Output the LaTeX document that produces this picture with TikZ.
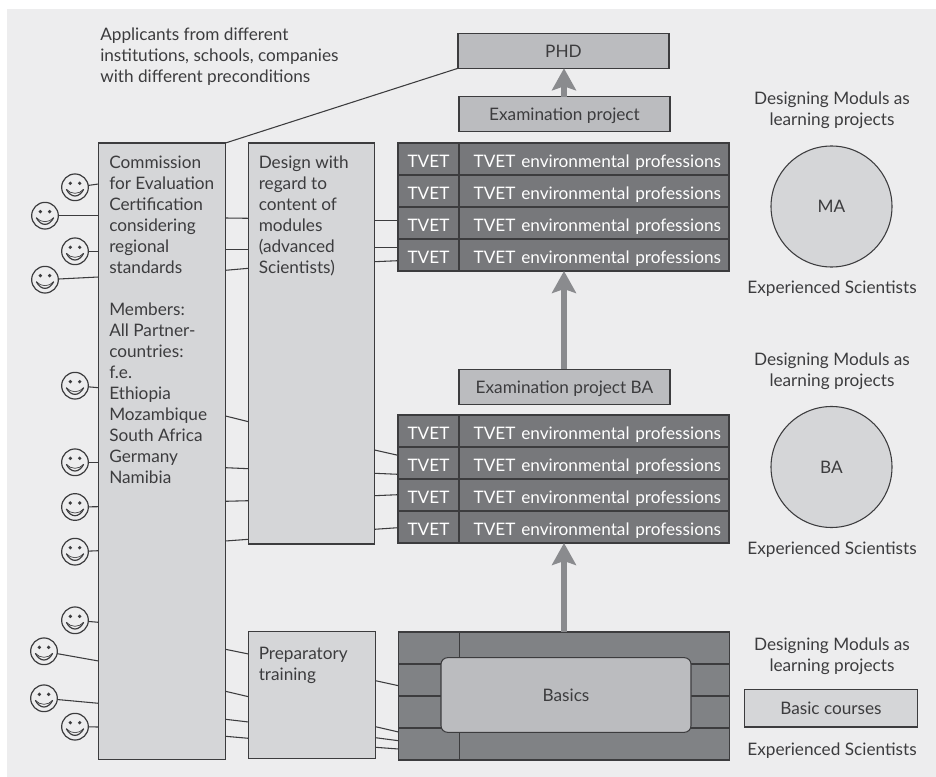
\documentclass[tikz,border=0pt]{standalone}
\usepackage{fontspec}
\setmainfont{Lato}
\usetikzlibrary{arrows.meta}
\definecolor{panelgray}{HTML}{EDEDEE}
\definecolor{boxgray}{HTML}{D5D6D8}
\definecolor{lightgray}{HTML}{BBBCBF}
\definecolor{tvetgray}{HTML}{77787B}
\definecolor{basegray}{HTML}{808285}
\definecolor{arrowgray}{HTML}{8A8B8E}
\definecolor{linegray}{HTML}{3C3C3E}
\begin{document}
\begin{tikzpicture}[x=0.75pt, y=-0.75pt, font=\fontsize{12.9pt}{15.75pt}\selectfont, text=linegray,
		main/.style = {draw=linegray, line width=0.8pt, fill=boxgray, inner sep=0pt, outer sep=0pt},
		light/.style = {main, fill=lightgray, minimum width=158.25pt, minimum height=26.25pt, text height=11pt, text depth=1.5pt},
		round/.style = {main, circle, minimum size=90.75pt},
		txt/.style = {align=center, inner sep=0pt},
		side/.style = {align=left, inner sep=0pt, anchor=north west},
		tvet/.style = {main, fill=tvetgray, text=white, minimum width=45.75pt, minimum height=24pt, text height=13.5pt, text depth=0.9pt},
		prof/.style = {tvet, minimum width=202.5pt, text width=190.5pt, align=right},
		brick/.style = {tvet, fill=basegray},
		brickw/.style = {prof, fill=basegray},
		link/.style = {draw=linegray, line width=0.8pt},
		up/.style = {draw=arrowgray, line width=4pt, -{Stealth[length=16.5pt, width=18pt, inset=3pt]}},
		smiley/.style = {draw=linegray, line width=0.9pt, circle, minimum size=20pt, inner sep=0pt, outer sep=0pt,
			path picture={
				\fill[linegray] ([xshift=-3.5pt, yshift=3pt]path picture bounding box.center) circle (1.4pt);
				\fill[linegray] ([xshift=3.5pt, yshift=3pt]path picture bounding box.center) circle (1.4pt);
				\draw[linegray, line width=0.9pt] ([xshift=-6.5pt, yshift=-1.5pt]path picture bounding box.center) .. controls ([xshift=-3pt, yshift=-8.2pt]path picture bounding box.center) and ([xshift=3pt, yshift=-8.2pt]path picture bounding box.center) .. ([xshift=6.5pt, yshift=-1.5pt]path picture bounding box.center);
				\draw[linegray, line width=0.5pt] ([xshift=-6.5pt, yshift=-1.5pt]path picture bounding box.center) .. controls ([xshift=-3pt, yshift=-5.5pt]path picture bounding box.center) and ([xshift=3pt, yshift=-5.5pt]path picture bounding box.center) .. ([xshift=6.5pt, yshift=-1.5pt]path picture bounding box.center);
			}}]
	\useasboundingbox (0,0) rectangle (936,777);
	\fill[panelgray] (7,9) rectangle (936,777);

	\node[side] (applicants) at (100,27.3) {Applicants from different\\institutions, schools, companies\\with different preconditions};

	\node[main, minimum width=95.25pt, minimum height=462.4pt, anchor=north west] (comm) at (98.5,143) {};
	\node[main, minimum width=94.5pt, minimum height=300.75pt, anchor=north west] (design) at (248.5,143) {};
	\node[main, minimum width=95.25pt, minimum height=95.5pt, anchor=north west] (prep) at (248.5,631.5) {};
	\node[side] (commtext) at (109,155.7) {Commission\\for Evaluation\\Certification\\considering\\regional\\standards\\[15.75pt]Members:\\All Partner-\\countries:\\f.e.\\Ethiopia\\Mozambique\\South Africa\\Germany\\Namibia};
	\node[side] (designtext) at (258.5,155.7) {Design with\\regard to\\content of\\modules\\(advanced\\Scientists)};
	\node[side] (preptext) at (258.5,646.7) {Preparatory\\training};

	\node[light, anchor=north west] (phd) at (458,33.3) {PHD};
	\node[light, anchor=north west] (exam) at (459,96.7) {Examination project};
	\node[light, anchor=north west] (examba) at (459,369.3) {Examination project BA};

	\node[tvet, node distance=24pt] (a1) at (428.5,159) {TVET};
	\node[tvet, node distance=24pt] (a2) [below of=a1] {TVET};
	\node[tvet, node distance=24pt] (a3) [below of=a2] {TVET};
	\node[tvet, node distance=24pt] (a4) [below of=a3] {TVET};
	\node[prof, node distance=124.125pt] (p1) [right of=a1] {TVET environmental professions};
	\node[prof, node distance=124.125pt] (p2) [right of=a2] {TVET environmental professions};
	\node[prof, node distance=124.125pt] (p3) [right of=a3] {TVET environmental professions};
	\node[prof, node distance=124.125pt] (p4) [right of=a4] {TVET environmental professions};

	\node[tvet, node distance=24pt] (c1) at (428.5,431) {TVET};
	\node[tvet, node distance=24pt] (c2) [below of=c1] {TVET};
	\node[tvet, node distance=24pt] (c3) [below of=c2] {TVET};
	\node[tvet, node distance=24pt] (c4) [below of=c3] {TVET};
	\node[prof, node distance=124.125pt] (q1) [right of=c1] {TVET environmental professions};
	\node[prof, node distance=124.125pt] (q2) [right of=c2] {TVET environmental professions};
	\node[prof, node distance=124.125pt] (q3) [right of=c3] {TVET environmental professions};
	\node[prof, node distance=124.125pt] (q4) [right of=c4] {TVET environmental professions};

	\node[brick, node distance=24pt] (b1) at (429,648) {};
	\node[brick, node distance=24pt] (b2) [below of=b1] {};
	\node[brick, node distance=24pt] (b3) [below of=b2] {};
	\node[brick, node distance=24pt] (b4) [below of=b3] {};
	\node[brickw, node distance=124.125pt] (w1) [right of=b1] {};
	\node[brickw, node distance=124.125pt] (w2) [right of=b2] {};
	\node[brickw, node distance=124.125pt] (w3) [right of=b3] {};
	\node[brickw, node distance=124.125pt] (w4) [right of=b4] {};
	\node[main, fill=lightgray, rounded corners=5pt, minimum width=187.5pt, minimum height=56pt] (basics) at (566,695) {Basics\hspace{12pt}};

	\node[round] (ma) at (831.5,206.5) {MA};
	\node[round] (ba) at (831.5,467) {BA};
	\node[main, minimum width=130pt, minimum height=28.25pt, anchor=north west] (courses) at (744.3,689.3) {Basic courses};

	\node[txt] (d1) at (832,110) {Designing Moduls as\\learning projects};
	\node[txt] (e1) at (832,288.5) {Experienced Scientists};
	\node[txt] (d2) at (832,371) {Designing Moduls as\\learning projects};
	\node[txt] (e2) at (832,549.5) {Experienced Scientists};
	\node[txt] (d3) at (832,656) {Designing Moduls as\\learning projects};
	\node[txt] (e3) at (832,750.5) {Experienced Scientists};

	\node[smiley] (s1) at (75,187.3) {};
	\node[smiley] (s2) at (45,215.7) {};
	\node[smiley] (s3) at (75,251.3) {};
	\node[smiley] (s4) at (45,279.7) {};
	\node[smiley] (s5) at (75,385.7) {};
	\node[smiley] (s6) at (75,462.3) {};
	\node[smiley] (s7) at (75,507) {};
	\node[smiley] (s8) at (75,551.7) {};
	\node[smiley] (s9) at (75,620.3) {};
	\node[smiley] (s10) at (44,651.3) {};
	\node[smiley] (s11) at (44,698.3) {};
	\node[smiley] (s12) at (75,726.7) {};

	\draw[link] (s1) -- (comm.west |- 0,184);
	\draw[link] (s2) -- (comm.west |- 0,215.7);
	\draw[link] (s3) -- (comm.west |- 0,251.3);
	\draw[link] (s4) -- (comm.west |- 0,277);
	\draw[link] (s5) -- (comm.west |- 0,387.7);
	\draw[link] (s6) -- (comm.west |- 0,462.3);
	\draw[link] (s7) -- (comm.west |- 0,506.7);
	\draw[link] (s8) -- (comm.west |- 0,550.7);
	\draw[link] (s9) -- (comm.west |- 0,622.3);
	\draw[link] (s10) -- (comm.west |- 0,661);
	\draw[link] (s11) -- (comm.west |- 0,703.3);
	\draw[link] (s12) -- (comm.west |- 0,727);

	\draw[link] (comm.east |- 0,218) -- (design.west |- 0,218.3);
	\draw[link] (comm.east |- 0,249.5) -- (design.west |- 0,249.5);
	\draw[link] (comm.east |- 0,270.3) -- (design.west |- 0,268.3);
	\draw[link] (comm.east |- 0,416) -- (design.west |- 0,421.7);
	\draw[link] (comm.east |- 0,467.7) -- (design.west |- 0,468.7);
	\draw[link] (comm.east |- 0,501.3) -- (design.west |- 0,500.7);
	\draw[link] (comm.east |- 0,541) -- (design.west |- 0,539.3);

	\draw[link] (comm.east |- 0,649.3) -- (prep.west |- 0,654);
	\draw[link] (comm.east |- 0,691.3) -- (prep.west |- 0,696.7);
	\draw[link] (comm.east |- 0,719.3) -- (prep.west |- 0,722);
	\draw[link] (comm.east |- 0,736.3) -- (prep.west |- 0,738.3);

	\draw[link] (design.east |- 0,220.5) -- (a3.west |- 0,220.5);
	\draw[link] (design.east |- 0,247.5) -- (a4.west |- 0,247.5);
	\draw[link] (design.east |- 0,261.7) -- (a4.west |- 0,260.7);
	\draw[link] (design.east |- 0,450) -- (c2.west |- 0,455.3);
	\draw[link] (design.east |- 0,473.3) -- (c2.west |- 0,474.3);
	\draw[link] (design.east |- 0,495.7) -- (c3.west |- 0,494.7);
	\draw[link] (design.east |- 0,529.3) -- (c4.west |- 0,527.7);

	\draw[link] (prep.east |- 0,680.7) -- (b2.west |- 0,685.7);
	\draw[link] (prep.east |- 0,726.7) -- (b4.west |- 0,732);
	\draw[link] (prep.east |- 0,737.7) -- (b4.west |- 0,740.7);
	\draw[link] (prep.east |- 0,747.3) -- (b4.west |- 0,749);

	\draw[link] (comm.north east) -- (phd.south west);

	\draw[up] (exam.north -| 564,0) -- (phd.south -| 564,0);
	\draw[up] (examba.north -| 564,0) -- (p4.south -| 564,0);
	\draw[up] (w1.north -| 564,0) -- (q4.south -| 564,0);
\end{tikzpicture}
\end{document}
